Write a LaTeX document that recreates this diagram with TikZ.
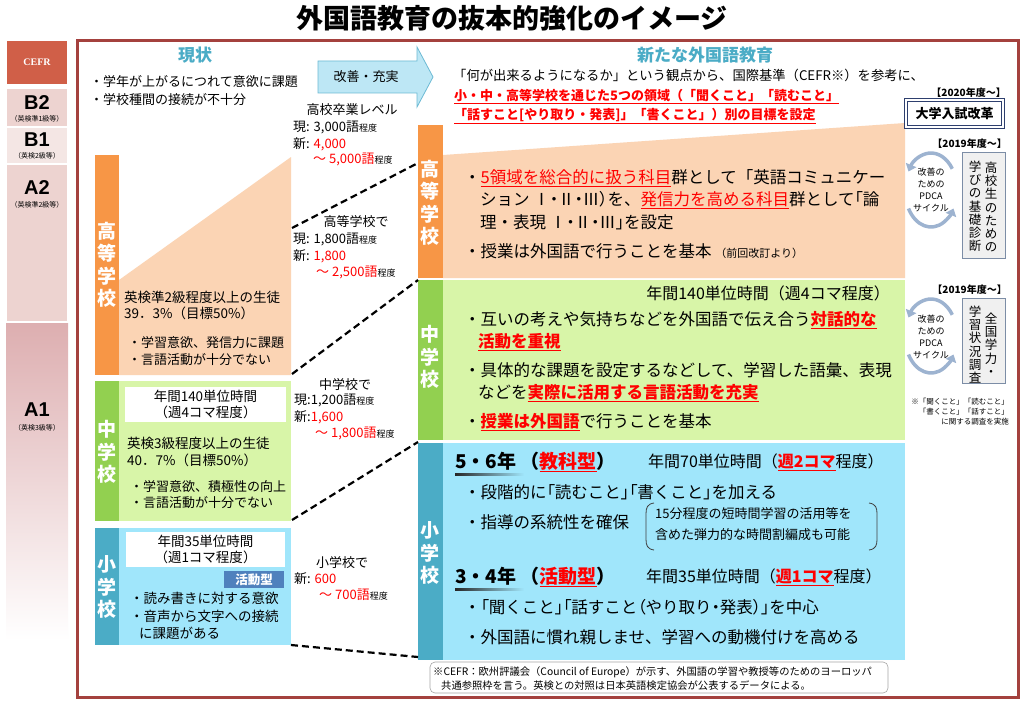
\documentclass[tikz,border=0pt]{standalone}
\usepackage{fontspec}
\setmainfont{Noto Sans CJK JP}
\newfontfamily\lsans{Liberation Sans}
\newfontfamily\lserif{Liberation Serif}
\usetikzlibrary{arrows.meta,calc}
\definecolor{cefrhead}{HTML}{D05F48}
\definecolor{pinkA}{HTML}{EDD3D0}
\definecolor{pinkB}{HTML}{F4E6E4}
\definecolor{pinkC}{HTML}{DDAEB0}
\definecolor{framered}{HTML}{A4413E}
\definecolor{headteal}{HTML}{4BACC6}
\definecolor{orbar}{HTML}{F79646}
\definecolor{peach}{HTML}{FBD4B4}
\definecolor{grbar}{HTML}{92D050}
\definecolor{ltgreen}{HTML}{D8F5A8}
\definecolor{tlbar}{HTML}{4BACC6}
\definecolor{ltblue}{HTML}{A0E6FB}
\definecolor{actblue}{HTML}{4F81BD}
\definecolor{arrowfill}{HTML}{BDE7F5}
\definecolor{arrowdraw}{HTML}{6CBAD4}
\definecolor{navy}{HTML}{2E3F6E}
\definecolor{vboxdraw}{HTML}{7C8DA6}
\definecolor{vboxfill}{HTML}{F0F0F0}
\definecolor{pdcab}{HTML}{9DB3D0}
\definecolor{redt}{HTML}{FF0000}
\newcommand\fz[2]{\fontsize{#1}{#2}\selectfont}
\newcommand\ru[1]{\textcolor{redt}{\underline{#1}}}
\newcommand\rt[1]{\textcolor{redt}{#1}}
\newcommand\sm[1]{{\fontsize{9}{9}\selectfont #1}}
\newcommand\pa{\addfontfeature{RawFeature=+palt}}
\tikzset{
 blk/.style={draw=none, inner sep=0pt, outer sep=0pt, anchor=north west},
 tx/.style={anchor=west, inner sep=0pt, text=black},
 vlab/.style={text=white, font=\bfseries\fz{19}{22.5}, align=center, inner sep=0pt},
 dashln/.style={line width=2.2pt, dash pattern=on 7pt off 4pt},
 pdca/.style={line width=3.5pt, draw=pdcab, -{Triangle[length=7pt,width=11pt]}},
 vbox/.style={blk, draw=vboxdraw, fill=vboxfill, line width=1pt},
 vcol/.style={anchor=north, inner sep=0pt, align=center, font=\fz{12.5}{13.1}},
 cefrlab/.style={font=\lsans\bfseries\fz{20}{20}, inner sep=0pt},
 cefrsub/.style={font=\fz{7}{7}, inner sep=0pt},
 sep/.style={draw=white, line width=1.5pt},
}
\begin{document}
\begin{tikzpicture}[x=1pt,y=-1pt]
\useasboundingbox (0,0) rectangle (1024,706);
\fill[white] (0,0) rectangle (1024,706);

% title
\node[font=\bfseries\fz{27}{27}, inner sep=0pt] (title) at (512,18) {外国語教育の抜本的強化のイメージ};

% CEFR column
\shade[top color=pinkC, bottom color=white] (6,322) rectangle (68,640);
\node[blk, sep, fill=cefrhead, minimum width=62, minimum height=45] (cefr) at (6,40) {};
\node[font=\lserif\bfseries\fz{10}{10}, text=white] (cefrt) at (cefr.center) {CEFR};
\node[blk, sep, fill=pinkA, minimum width=62, minimum height=39] (b2) at (6,88) {};
\node[blk, sep, fill=pinkB, minimum width=62, minimum height=37] (b1) at (6,127) {};
\node[blk, sep, fill=pinkA, minimum width=62, minimum height=158] (a2) at (6,164) {};
\node[cefrlab] (b2t) at (37,103) {B2};
\node[cefrsub] (b2s) at (37,119) {（英検準1級等）};
\node[cefrlab] (b1t) at (37,140) {B1};
\node[cefrsub] (b1s) at (37,156) {（英検2級等）};
\node[cefrlab] (a2t) at (37,188) {A2};
\node[cefrsub] (a2s) at (37,205) {（英検準2級等）};
\node[cefrlab] (a1t) at (37,410) {A1};
\node[cefrsub] (a1s) at (37,428) {（英検3級等）};

% main frame
\draw[line width=3pt, framered] (77,41) rectangle (1018,697);

% headings
\node[font=\bfseries\fz{17}{17}, text=headteal, inner sep=0pt] (h1) at (195,55) {現状};
\node[font=\bfseries\fz{17}{17}, text=headteal, inner sep=0pt] (h2) at (705,55) {新たな外国語教育};
\node[tx, font=\fz{13}{13}] (cur1) at (90,82) {・学年が上がるにつれて意欲に課題};
\node[tx, font=\fz{13}{13}] (cur2) at (90,100) {・学校種間の接続が不十分};

% arrow
\draw[fill=arrowfill, draw=arrowdraw, line width=0.8pt] (318,61) -- (417,61) -- (417,47) -- (433,77) -- (417,107) -- (417,93) -- (318,93) -- cycle;
\node[font=\fz{13}{13}, inner sep=0pt] (arr) at (366,77) {改善・充実};

% left stages
\node[blk, fill=orbar, minimum width=24, minimum height=220] (lhsbar) at (95,155) {};
\fill[peach] (119,280) -- (291,157) -- (291,375) -- (119,375) -- cycle;
\node[vlab] (lhsl) at (107,265) {高\\等\\学\\校};
\node[tx, font=\fz{13.5}{13.5}] (l1) at (124,297) {英検準2級程度以上の生徒};
\node[tx, font=\fz{13.5}{13.5}] (l2) at (124,313) {39．3\%（目標50\%）};
\node[tx, font=\fz{13}{13}] (l3) at (128,343) {・学習意欲、発信力に課題};
\node[tx, font=\fz{13}{13}] (l4) at (128,360) {・言語活動が十分でない};

\node[blk, fill=grbar, minimum width=24, minimum height=140] (lmsbar) at (95,381) {};
\node[blk, fill=ltgreen, minimum width=172, minimum height=140] (lms) at (119,381) {};
\node[vlab] (lmsl) at (107,452) {中\\学\\校};
\node[blk, fill=white, minimum width=161, minimum height=35] (lmsw) at (125,387) {};
\node[font=\fz{13.5}{16.5}, align=center, inner sep=0pt] (lmswt) at (lmsw.center) {年間140単位時間\\（週4コマ程度）};
\node[tx, font=\fz{13.5}{13.5}] (m1) at (127,443) {英検3級程度以上の生徒};
\node[tx, font=\fz{13.5}{13.5}] (m2) at (127,460) {40．7\%（目標50\%）};
\node[tx, font=\fz{13}{13}] (m3) at (130,487) {・学習意欲、積極性の向上};
\node[tx, font=\fz{13}{13}] (m4) at (130,503) {・言語活動が十分でない};

\node[blk, fill=tlbar, minimum width=24, minimum height=117] (lesbar) at (95,528) {};
\node[blk, fill=ltblue, minimum width=172, minimum height=117] (les) at (119,528) {};
\node[vlab] (lesl) at (107,587) {小\\学\\校};
\node[blk, fill=white, minimum width=159, minimum height=35] (lesw) at (126,532) {};
\node[font=\fz{13.5}{16.5}, align=center, inner sep=0pt] (leswt) at (lesw.center) {年間35単位時間\\（週1コマ程度）};
\node[blk, fill=actblue, minimum width=60, minimum height=17] (act) at (224,571) {};
\node[font=\bfseries\fz{12.5}{12.5}, text=white, inner sep=0pt] (actt) at (act.center) {活動型};
\node[tx, font=\fz{13.5}{13.5}] (e1) at (130,598) {・読み書きに対する意欲};
\node[tx, font=\fz{13.5}{13.5}] (e2) at (130,616) {・音声から文字への接続};
\node[tx, font=\fz{13.5}{13.5}] (e3) at (139,633) {に課題がある};

% middle vocab texts
\node[font=\fz{13}{13}, inner sep=0pt] (v1) at (352,110) {高校卒業レベル};
\node[tx, font=\fz{13}{13}] (v2) at (293,128) {現: 3,000語\sm{程度}};
\node[tx, font=\fz{13}{13}] (v3) at (293,144) {新: \rt{4,000}};
\node[tx, font=\fz{13}{13}] (v4) at (313,160) {\rt{～ 5,000語}\sm{程度}};
\node[font=\fz{13}{13}, inner sep=0pt] (v5) at (356,222) {高等学校で};
\node[tx, font=\fz{13}{13}] (v6) at (293,240) {現: 1,800語\sm{程度}};
\node[tx, font=\fz{13}{13}] (v7) at (293,256) {新: \rt{1,800}};
\node[tx, font=\fz{13}{13}] (v8) at (316,272) {\rt{～ 2,500語}\sm{程度}};
\node[font=\fz{13}{13}, inner sep=0pt] (v9) at (345,385) {中学校で};
\node[tx, font=\fz{13}{13}] (v10) at (294,400) {現:1,200語\sm{程度}};
\node[tx, font=\fz{13}{13}] (v11) at (294,417) {新:\rt{1,600}};
\node[tx, font=\fz{13}{13}] (v12) at (315,433) {\rt{～ 1,800語}\sm{程度}};
\node[font=\fz{13}{13}, inner sep=0pt] (v13) at (342,563) {小学校で};
\node[tx, font=\fz{13}{13}] (v14) at (294,579) {新: \rt{600}};
\node[tx, font=\fz{13}{13}] (v15) at (319,595) {\rt{～ 700語}\sm{程度}};

% right header text
\node[tx, font=\fz{13.3}{13.3}] (r0) at (453,75) {「何が出来るようになるか」という観点から、国際基準（CEFR※）を参考に、};
\node[tx, font=\bfseries\fz{13}{13}] (r1) at (454,97) {\ru{小・中・高等学校を通じた5つの領域（「聞くこと」「読むこと」}};
\node[tx, font=\bfseries\fz{13}{13}] (r2) at (454,116) {\ru{「話すこと[やり取り・発表]」「書くこと」）別の目標を設定}};

% right high school
\node[blk, fill=orbar, minimum width=25, minimum height=153] (rhsbar) at (418,125) {};
\fill[peach] (443,155) -- (905,123) -- (905,278) -- (443,278) -- cycle;
\node[vlab] (rhsl) at (430,203) {高\\等\\学\\校};
\node[tx, font=\fz{16.5}{16.5}] (h1a) at (464,178) {・\ru{5領域を総合的に扱う科目}群として「英語コミュニケー};
\node[tx, font=\fz{16.5}{16.5}] (h1b) at (480,200) {ション {\pa Ⅰ・Ⅱ・Ⅲ）}を、\ru{発信力を高める科目}群として{\pa 「}論};
\node[tx, font=\fz{16.5}{16.5}] (h1c) at (480,222) {理・表現 {\pa Ⅰ・Ⅱ・Ⅲ」}を設定};
\node[tx, font=\fz{16.5}{16.5}] (h1d) at (464,251) {・授業は外国語で行うことを基本 {\fz{11}{11}（前回改訂より）}};

% right middle school
\node[blk, fill=grbar, minimum width=25, minimum height=160] (rmsbar) at (418,280) {};
\node[blk, fill=ltgreen, minimum width=462, minimum height=160] (rms) at (443,280) {};
\node[vlab] (rmsl) at (430,357) {中\\学\\校};
\node[anchor=east, inner sep=0pt, font=\fz{16}{16}] (ms0) at (890,293) {年間140単位時間（週4コマ程度）};
\node[tx, font=\fz{16.5}{16.5}] (ms1) at (464,320) {・互いの考えや気持ちなどを外国語で伝え合う\ru{\bfseries 対話的な}};
\node[tx, font=\fz{16.5}{16.5}] (ms2) at (478,342) {\ru{\bfseries 活動を重視}};
\node[tx, font=\fz{16.5}{16.5}] (ms3) at (464,370) {・具体的な課題を設定するなどして、学習した語彙、表現};
\node[tx, font=\fz{16.5}{16.5}] (ms4) at (478,393) {などを\ru{\bfseries 実際に活用する言語活動を充実}};
\node[tx, font=\fz{16.5}{16.5}] (ms5) at (464,422) {・\ru{\bfseries 授業は外国語}で行うことを基本};

% right elementary
\node[blk, fill=tlbar, minimum width=25, minimum height=217] (resbar) at (418,443) {};
\node[blk, fill=ltblue, minimum width=462, minimum height=217] (res) at (443,443) {};
\node[vlab] (resl) at (430,553) {小\\学\\校};
\shade[left color=black!85, right color=ltblue] (455,473) rectangle (524,475.5);
\node[tx, font=\bfseries\fz{19}{19}] (es1) at (455,462) {5・6年 （\ru{教科型}）};
\node[tx, font=\fz{16}{16}] (es2) at (648,462) {年間70単位時間（\ru{\bfseries 週2コマ}程度）};
\node[tx, font=\fz{16.5}{16.5}] (es3) at (464,492) {・段階的に{\pa 「}読むこと{\pa 」「}書くこと{\pa 」}を加える};
\node[tx, font=\fz{16.5}{16.5}] (es4) at (464,522) {・指導の系統性を確保};
\coordinate (brL) at (646,503);
\coordinate (brR) at (877,503);
\draw[black!75, line width=0.8pt] ($(brL)+(8,0)$) .. controls ($(brL)+(1,1)$) and ($(brL)+(0,5)$) .. ($(brL)+(0,11)$) -- ($(brL)+(0,36)$) .. controls ($(brL)+(0,42)$) and ($(brL)+(1,46)$) .. ($(brL)+(8,47)$);
\draw[black!75, line width=0.8pt] ($(brR)+(-8,0)$) .. controls ($(brR)+(-1,1)$) and ($(brR)+(0,5)$) .. ($(brR)+(0,11)$) -- ($(brR)+(0,36)$) .. controls ($(brR)+(0,42)$) and ($(brR)+(-1,46)$) .. ($(brR)+(-8,47)$);
\node[anchor=north west, inner sep=0pt, font=\fz{13}{21}, align=left] (brt) at (655,507) {15分程度の短時間学習の活用等を\\含めた弾力的な時間割編成も可能};
\shade[left color=black!85, right color=ltblue] (455,588) rectangle (524,590.5);
\node[tx, font=\bfseries\fz{19}{19}] (es5) at (455,577) {3・4年 （\ru{活動型}）};
\node[tx, font=\fz{16}{16}] (es6) at (646,577) {年間35単位時間（\ru{\bfseries 週1コマ}程度）};
\node[tx, font=\fz{16.5}{16.5}] (es7) at (464,607) {・{\pa 「}聞くこと{\pa 」「}話すこと{\pa （}やり取り{\pa ・}発表{\pa ）」}を中心};
\node[tx, font=\fz{16.5}{16.5}] (es8) at (464,637) {・外国語に慣れ親しませ、学習への動機付けを高める};

% footnote
\node[blk, draw=gray!70, rounded corners=5pt, line width=0.6pt, minimum width=458, minimum height=31] (fn) at (430,662) {};
\node[anchor=north west, inner sep=0pt, font=\fz{10.3}{14}, align=left] (fnt) at (433,666) {※CEFR：欧州評議会（Council of Europe）が示す、外国語の学習や教授等のためのヨーロッパ\\\hspace{8pt}共通参照枠を言う。英検との対照は日本英語検定協会が公表するデータによる。};

% dashed connectors
\coordinate (d1a) at (292,228); \coordinate (d1b) at (418,163);
\coordinate (d2a) at (292,374); \coordinate (d2b) at (418,280);
\coordinate (d3a) at (292,520); \coordinate (d3b) at (418,442);
\coordinate (d4a) at (291,645); \coordinate (d4b) at (418,657);
\draw[dashln] (d1a) -- (d1b);
\draw[dashln] (d2a) -- (d2b);
\draw[dashln] (d3a) -- (d3b);
\draw[dashln] (d4a) -- (d4b);

% right column
\node[anchor=east, inner sep=0pt, font=\bfseries\fz{10}{10}] (y2020) at (1006,93) {【2020年度～】};
\node[blk, draw=navy, double=white, double distance=1.4pt, line width=0.9pt, minimum width=97, minimum height=27] (exam) at (906,100) {};
\node[font=\bfseries\fz{13}{13}, inner sep=0pt] (examt) at (exam.center) {大学入試改革};

\node[anchor=east, inner sep=0pt, font=\bfseries\fz{10}{10}] (y2019a) at (1007,144) {【2019年度～】};
\coordinate (pc1) at (931,190);
\draw[pdca] ($(pc1)+(-35:26 and 37)$) arc[start angle=-35, end angle=-150, x radius=26, y radius=37];
\draw[pdca] ($(pc1)+(150:26 and 37)$) arc[start angle=150, end angle=30, x radius=26, y radius=37];
\node[font=\fz{9}{12.2}, align=center, inner sep=0pt] (pd1) at (931,190) {改善の\\ための\\PDCA\\サイクル};
\node[vbox, minimum width=43, minimum height=106] (vb1) at (962,152) {};
\node[vcol] (vb1r) at (991,162) {高\\校\\生\\の\\た\\め\\の};
\node[vcol] (vb1l) at (975,161) {学\\び\\の\\基\\礎\\診\\断};

\node[anchor=east, inner sep=0pt, font=\bfseries\fz{10}{10}] (y2019b) at (1007,290) {【2019年度～】};
\coordinate (pc2) at (931,336);
\draw[pdca] ($(pc2)+(-35:26 and 37)$) arc[start angle=-35, end angle=-150, x radius=26, y radius=37];
\draw[pdca] ($(pc2)+(150:26 and 37)$) arc[start angle=150, end angle=30, x radius=26, y radius=37];
\node[font=\fz{9}{12.2}, align=center, inner sep=0pt] (pd2) at (931,337) {改善の\\ための\\PDCA\\サイクル};
\node[vbox, minimum width=43, minimum height=85] (vb2) at (962,298) {};
\node[vcol] (vb2r) at (991,313) {全\\国\\学\\力\\・};
\node[vcol] (vb2l) at (975,306) {学\\習\\状\\況\\調\\査};
\node[anchor=north east, inner sep=0pt, font=\fz{7.5}{10}, align=right] (svn) at (1009,398) {※「聞くこと」「読むこと」\\「書くこと」「話すこと」\\に関する調査を実施};
\end{tikzpicture}
\end{document}
